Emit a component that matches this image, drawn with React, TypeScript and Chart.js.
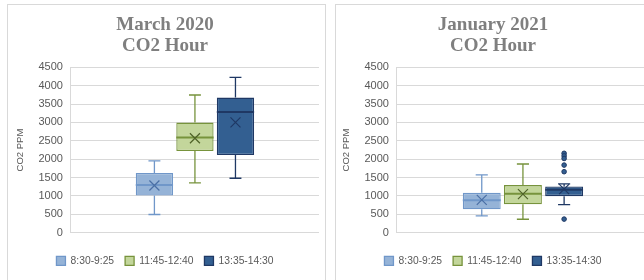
import React, { useEffect, useRef } from 'react';
import { Chart, registerables } from 'chart.js';

Chart.register(...registerables);

const CATEGORIES = ['CO2 Hour'];
const SERIES = ['8:30-9:25', '11:45-12:40', '13:35-14:30'];
const Y_TICKS = [0, 500, 1000, 1500, 2000, 2500, 3000, 3500, 4000, 4500];

// March 2020
const MAR_MIN = [495, 1354, 1482];
const MAR_Q1 = [1011, 2224, 2116];
const MAR_MEDIAN = [1300, 2588, 3285];
const MAR_Q3 = [1626, 2996, 3676];
const MAR_MAX = [1952, 3747, 4228];
const MAR_MEAN = [1283, 2570, 3004];
const MAR_OUTLIERS: number[][] = [[], [], []];

// January 2021
const JAN_MIN = [456, 366, 765];
const JAN_Q1 = [639, 776, 994];
const JAN_MEDIAN = [885, 1057, 1167];
const JAN_Q3 = [1085, 1295, 1257];
const JAN_MAX = [1576, 1869, 1330];
const JAN_MEAN = [893, 1050, 1186];
const JAN_OUTLIERS: number[][] = [[], [], [2160, 2090, 2020, 1840, 1660, 370]];

const FILLS = ['#95B3D7', '#C3D69B', '#335F91'];
const BORDERS = ['#7097C9', '#77933C', '#1F3864'];
const MARKS = ['#4A6FA5', '#4F6228', '#1F3864'];

const boxPlugin = {
  id: 'boxWhisker',
  afterDatasetsDraw(chart: any) {
    const ctx = chart.ctx;
    const y = chart.scales.y;
    chart.data.datasets.forEach((ds: any, i: number) => {
      const meta = chart.getDatasetMeta(i);
      const st = ds.stats;
      meta.data.forEach((bar: any, j: number) => {
        const { x, width } = bar.getProps(['x', 'width'], true);
        const half = width / 2;
        const cap = width * 0.16;
        const yMin = y.getPixelForValue(st.min[j]);
        const yMax = y.getPixelForValue(st.max[j]);
        const yQ1 = y.getPixelForValue(st.q1[j]);
        const yQ3 = y.getPixelForValue(st.q3[j]);
        const yMed = y.getPixelForValue(st.median[j]);
        const yMean = y.getPixelForValue(st.mean[j]);
        ctx.save();
        ctx.strokeStyle = ds.borderColor;
        ctx.lineWidth = 1.3;
        ctx.beginPath();
        ctx.moveTo(x, yQ3); ctx.lineTo(x, yMax);
        ctx.moveTo(x - cap, yMax); ctx.lineTo(x + cap, yMax);
        ctx.moveTo(x, yQ1); ctx.lineTo(x, yMin);
        ctx.moveTo(x - cap, yMin); ctx.lineTo(x + cap, yMin);
        ctx.stroke();
        ctx.lineWidth = 2;
        ctx.beginPath();
        ctx.moveTo(x - half, yMed); ctx.lineTo(x + half, yMed);
        ctx.stroke();
        ctx.strokeStyle = ds.markColor;
        ctx.lineWidth = 1.2;
        const m = 5;
        ctx.beginPath();
        ctx.moveTo(x - m, yMean - m); ctx.lineTo(x + m, yMean + m);
        ctx.moveTo(x - m, yMean + m); ctx.lineTo(x + m, yMean - m);
        ctx.stroke();
        ctx.fillStyle = ds.backgroundColor;
        ctx.strokeStyle = ds.borderColor;
        ctx.lineWidth = 1;
        (st.outliers[j] || []).forEach((v: number) => {
          ctx.beginPath();
          ctx.arc(x, y.getPixelForValue(v), 2.3, 0, Math.PI * 2);
          ctx.fill();
          ctx.stroke();
        });
        ctx.restore();
      });
    });
  },
};

type Stats = {
  min: number[]; q1: number[]; median: number[]; q3: number[]; max: number[]; mean: number[]; outliers: number[][];
};

function makeConfig(title: string, s: Stats, pad: { left: number; right: number }) {
  const datasets = SERIES.map((label, i) => ({
    label,
    data: CATEGORIES.map(() => [s.q1[i], s.q3[i]]),
    backgroundColor: FILLS[i],
    borderColor: BORDERS[i],
    markColor: MARKS[i],
    borderWidth: 1.3,
    borderSkipped: false,
    categoryPercentage: 0.49,
    barPercentage: 0.92,
    stats: {
      min: [s.min[i]], q1: [s.q1[i]], median: [s.median[i]], q3: [s.q3[i]],
      max: [s.max[i]], mean: [s.mean[i]], outliers: [s.outliers[i]],
    },
  }));
  return {
    type: 'bar' as const,
    data: { labels: CATEGORIES, datasets },
    plugins: [boxPlugin],
    options: {
      animation: false,
      responsive: false,
      devicePixelRatio: 1,
      layout: { padding: { left: pad.left, right: pad.right, top: 0, bottom: 4 } },
      plugins: {
        title: {
          display: true,
          text: [title, 'CO2 Hour'],
          color: '#7F7F7F',
          font: { family: 'Liberation Serif', size: 19, weight: 'bold', lineHeight: 1.14 },
          padding: { top: 9, bottom: 10 },
        },
        legend: {
          position: 'bottom',
          labels: {
            boxWidth: 9,
            boxHeight: 9,
            padding: 11,
            color: '#595959',
            font: { family: 'Liberation Sans', size: 10.3 },
          },
        },
        tooltip: { enabled: false },
      },
      scales: {
        x: {
          ticks: { display: false },
          grid: { color: 'rgba(0,0,0,0)', drawTicks: true, tickLength: 12 },
          border: { display: false },
        },
        y: {
          min: 0,
          max: 4500,
          afterBuildTicks: (axis: any) => { axis.ticks = Y_TICKS.map((v) => ({ value: v })); },
          ticks: {
            padding: 8,
            color: '#595959',
            font: { family: 'Liberation Sans', size: 11 },
            callback: (v: any) => String(v),
          },
          grid: { color: '#D9D9D9', drawTicks: false },
          border: { color: '#D9D9D9' },
          title: {
            display: true,
            text: 'CO2 PPM',
            color: '#595959',
            font: { family: 'Liberation Sans', size: 9.5 },
            padding: { top: 4, bottom: 4 },
          },
        },
      },
    },
  };
}

function Panel({ left, width, title, stats, pad }: { left: number; width: number; title: string; stats: Stats; pad: { left: number; right: number } }) {
  const ref = useRef<HTMLCanvasElement>(null);
  useEffect(() => {
    const chart = new Chart(ref.current as HTMLCanvasElement, makeConfig(title, stats, pad) as any);
    return () => chart.destroy();
  }, []);
  return (
    <div style={{ position: 'absolute', left, top: 4, width, height: 300, border: '1px solid #D9D9D9', boxSizing: 'border-box', background: '#fff' }}>
      <canvas ref={ref} width={width - 2} height={275} style={{ position: 'absolute', left: 0, top: 0, width: width - 2, height: 275 }} />
    </div>
  );
}

export default function App() {
  return (
    <div style={{ position: 'fixed', left: 0, top: 0, width: 644, height: 280, background: '#fff', overflow: 'hidden' }}>
      <Panel left={7} width={319} title="March 2020" pad={{ left: 3, right: 6 }}
        stats={{ min: MAR_MIN, q1: MAR_Q1, median: MAR_MEDIAN, q3: MAR_Q3, max: MAR_MAX, mean: MAR_MEAN, outliers: MAR_OUTLIERS }} />
      <Panel left={335} width={319} title="January 2021" pad={{ left: 1, right: 4 }}
        stats={{ min: JAN_MIN, q1: JAN_Q1, median: JAN_MEDIAN, q3: JAN_Q3, max: JAN_MAX, mean: JAN_MEAN, outliers: JAN_OUTLIERS }} />
    </div>
  );
}
